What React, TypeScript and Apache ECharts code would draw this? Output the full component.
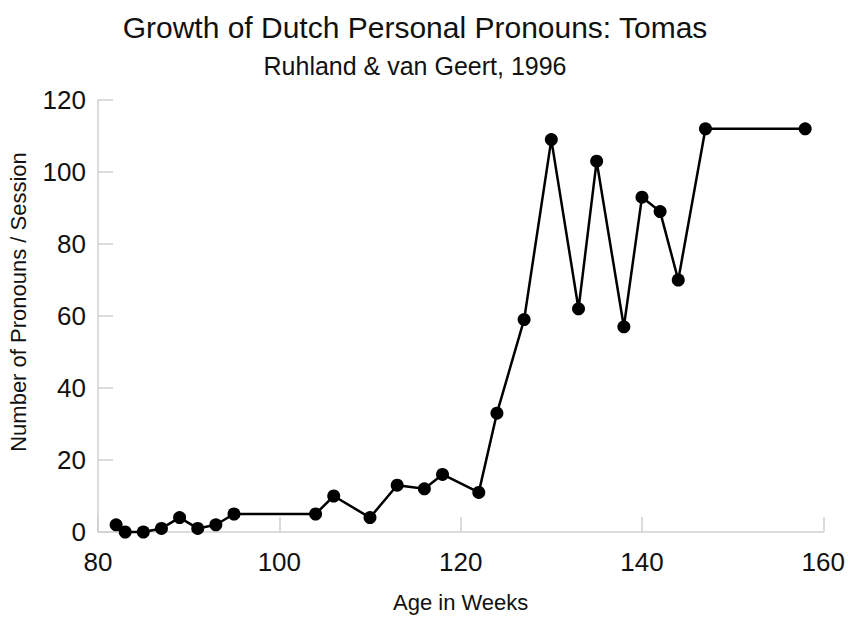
import React, { useEffect, useRef } from "react";
import * as echarts from "echarts";

const ageWeeks = [82, 83, 85, 87, 89, 91, 93, 95, 104, 106, 110, 113, 116, 118, 122, 124, 127, 130, 133, 135, 138, 140, 142, 144, 147, 158];
const pronouns = [2, 0, 0, 1, 4, 1, 2, 5, 5, 10, 4, 13, 12, 16, 11, 33, 59, 109, 62, 103, 57, 93, 89, 70, 112, 112];

const titleText = "Growth of Dutch Personal Pronouns: Tomas";
const subtitleText = "Ruhland & van Geert, 1996";
const xName = "Age in Weeks";
const yName = "Number of Pronouns / Session";

const FONT = "'Liberation Sans', Arial, Helvetica, sans-serif";

export default function App() {
  const ref = useRef<HTMLDivElement>(null);
  useEffect(() => {
    document.body.style.margin = "0";
    if (!ref.current) return;
    const chart = echarts.init(ref.current, null, { renderer: "svg" });
    const data = ageWeeks.map((x, i) => [x, pronouns[i]]);
    const axisGray = "#d0d0d0";
    chart.setOption({
      animation: false,
      backgroundColor: "#ffffff",
      textStyle: { fontFamily: FONT },
      graphic: [
        {
          type: "text",
          x: 415,
          y: 27,
          style: {
            text: titleText,
            fontSize: 30,
            fontFamily: FONT,
            fill: "#111",
            textAlign: "center",
            textVerticalAlign: "middle",
          },
        },
        {
          type: "text",
          x: 415,
          y: 66,
          style: {
            text: subtitleText,
            fontSize: 25,
            fontFamily: FONT,
            fill: "#111",
            textAlign: "center",
            textVerticalAlign: "middle",
          },
        },
        {
          type: "text",
          x: 18,
          y: 302,
          rotation: Math.PI / 2,
          style: {
            text: yName,
            fontSize: 22,
            fontFamily: FONT,
            fill: "#111",
            textAlign: "center",
            textVerticalAlign: "middle",
          },
        },
      ],
      grid: { left: 98, right: 22, top: 100, bottom: 80, containLabel: false },
      xAxis: {
        type: "value",
        min: 80,
        max: 160,
        interval: 20,
        name: xName,
        nameLocation: "middle",
        nameGap: 59,
        nameTextStyle: { fontSize: 22, color: "#111", fontFamily: FONT },
        axisLine: { show: true, lineStyle: { color: axisGray, width: 1.5 } },
        axisTick: { show: true, inside: true, length: 15, lineStyle: { color: axisGray, width: 1.5 } },
        axisLabel: { fontSize: 26, color: "#111", margin: 17, fontFamily: FONT },
        splitLine: { show: false },
      },
      yAxis: {
        type: "value",
        min: 0,
        max: 120,
        interval: 20,
        axisLine: { show: true, lineStyle: { color: axisGray, width: 1.5 } },
        axisTick: { show: true, inside: true, length: 15, lineStyle: { color: axisGray, width: 1.5 } },
        axisLabel: { fontSize: 26, color: "#111", margin: 12, fontFamily: FONT },
        splitLine: { show: false },
      },
      series: [
        {
          type: "line",
          data,
          symbol: "circle",
          symbolSize: 13,
          showSymbol: true,
          lineStyle: { color: "#000", width: 2.5 },
          itemStyle: { color: "#000" },
          clip: false,
        },
      ],
    });
    return () => chart.dispose();
  }, []);
  return (
    <div
      ref={ref}
      style={{ position: "fixed", left: 0, top: 0, width: 848, height: 618 }}
    />
  );
}
